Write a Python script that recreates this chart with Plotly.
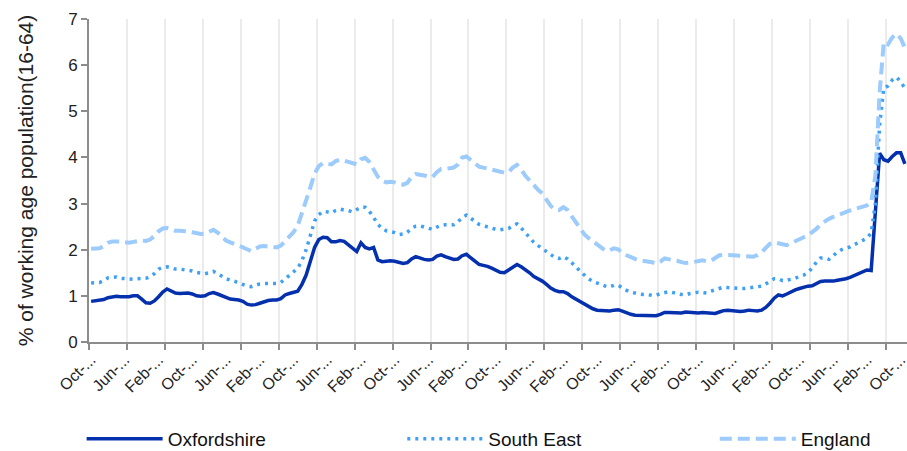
import plotly.graph_objects as go

# Monthly claimant rate, % of working age population (16-64)
oxfordshire = [
    0.88, 0.89, 0.90, 0.92, 0.96, 0.98, 0.99, 0.98, 0.98, 0.98,
    1.00, 1.00, 0.93, 0.85, 0.84, 0.89, 0.98, 1.08, 1.15, 1.10,
    1.06, 1.05, 1.05, 1.06, 1.04, 1.00, 0.99, 1.00, 1.05, 1.07,
    1.04, 1.00, 0.96, 0.93, 0.92, 0.91, 0.88, 0.82, 0.80, 0.81,
    0.84, 0.88, 0.90, 0.91, 0.91, 0.94, 1.02, 1.05, 1.07, 1.10,
    1.25, 1.45, 1.75, 2.05, 2.22, 2.27, 2.26, 2.17, 2.17, 2.20,
    2.18, 2.10, 2.03, 1.96, 2.15, 2.05, 2.02, 2.05, 1.78, 1.74,
    1.75, 1.76, 1.75, 1.72, 1.70, 1.72, 1.80, 1.85, 1.81, 1.79,
    1.78, 1.79, 1.86, 1.89, 1.85, 1.81, 1.79, 1.80, 1.87, 1.90,
    1.83, 1.74, 1.68, 1.66, 1.64, 1.60, 1.55, 1.51, 1.50, 1.56,
    1.63, 1.68, 1.63, 1.57, 1.50, 1.42, 1.38, 1.32, 1.25, 1.17,
    1.12, 1.09, 1.09, 1.05, 0.98, 0.93, 0.88, 0.81, 0.77, 0.72,
    0.69, 0.68, 0.67, 0.67, 0.69, 0.70, 0.67, 0.63, 0.60, 0.58,
    0.58, 0.58, 0.58, 0.58, 0.57, 0.60, 0.64, 0.64, 0.64, 0.64,
    0.63, 0.65, 0.64, 0.64, 0.63, 0.64, 0.63, 0.62, 0.62, 0.65,
    0.68, 0.69, 0.68, 0.66, 0.66, 0.67, 0.69, 0.68, 0.67, 0.69,
    0.75, 0.84, 0.95, 1.02, 1.00, 1.04, 1.09, 1.13, 1.16, 1.19,
    1.21, 1.22, 1.26, 1.31, 1.32, 1.32, 1.32, 1.34, 1.35, 1.37,
    1.40, 1.44, 1.46, 1.50, 1.56, 1.55, 2.80, 4.09, 3.95, 3.92,
    4.02, 4.10, 4.10, 3.86,
]

south_east = [
    1.28, 1.29, 1.29, 1.33, 1.39, 1.40, 1.41, 1.38, 1.37, 1.36,
    1.36, 1.37, 1.37, 1.38, 1.42, 1.48, 1.58, 1.62, 1.63, 1.60,
    1.58, 1.58, 1.57, 1.56, 1.54, 1.51, 1.49, 1.48, 1.50, 1.53,
    1.48, 1.42, 1.37, 1.34, 1.32, 1.28, 1.24, 1.21, 1.20, 1.23,
    1.26, 1.27, 1.27, 1.27, 1.27, 1.29, 1.36, 1.45, 1.52, 1.60,
    1.76, 2.00, 2.30, 2.62, 2.76, 2.83, 2.82, 2.80, 2.85, 2.88,
    2.86, 2.85, 2.82, 2.88, 2.92, 2.92, 2.83, 2.70, 2.55, 2.46,
    2.41, 2.39, 2.37, 2.33, 2.34, 2.38, 2.47, 2.51, 2.52, 2.49,
    2.46, 2.44, 2.49, 2.53, 2.54, 2.54, 2.54, 2.60, 2.70, 2.75,
    2.68, 2.61, 2.55, 2.52, 2.49, 2.46, 2.44, 2.43, 2.44, 2.46,
    2.52, 2.56, 2.47, 2.37, 2.26, 2.16, 2.09, 2.02, 1.95, 1.89,
    1.83, 1.81, 1.85, 1.80, 1.72, 1.63, 1.53, 1.44, 1.37, 1.31,
    1.27, 1.24, 1.21, 1.19, 1.23, 1.23, 1.17, 1.12, 1.08, 1.05,
    1.04, 1.03, 1.03, 1.01, 1.01, 1.05, 1.08, 1.09, 1.07, 1.06,
    1.03, 1.02, 1.05, 1.07, 1.08, 1.07, 1.06, 1.10, 1.13, 1.17,
    1.19, 1.18, 1.17, 1.16, 1.16, 1.16, 1.17, 1.19, 1.20, 1.21,
    1.26, 1.32, 1.37, 1.37, 1.33, 1.34, 1.36, 1.38, 1.42, 1.45,
    1.51, 1.60, 1.73, 1.82, 1.82, 1.79, 1.87, 1.95, 2.00, 2.03,
    2.06, 2.11, 2.15, 2.19, 2.25, 2.36, 3.00, 4.70, 5.50, 5.55,
    5.68, 5.74, 5.64, 5.50,
]

england = [
    2.02, 2.02, 2.03, 2.08, 2.15, 2.18, 2.19, 2.18, 2.16, 2.15,
    2.17, 2.19, 2.20, 2.19, 2.22, 2.30, 2.40, 2.46, 2.47, 2.44,
    2.41, 2.41, 2.41, 2.40, 2.38, 2.36, 2.34, 2.35, 2.40, 2.43,
    2.37, 2.28, 2.20, 2.16, 2.13, 2.09, 2.05, 2.01, 1.97, 2.02,
    2.07, 2.08, 2.07, 2.06, 2.05, 2.09, 2.19, 2.31, 2.38, 2.52,
    2.78, 3.05, 3.35, 3.65, 3.81, 3.88, 3.86, 3.85, 3.92, 3.95,
    3.93, 3.91, 3.87, 3.85, 3.96, 3.99, 3.90, 3.75, 3.58, 3.50,
    3.46, 3.47, 3.46, 3.42, 3.41, 3.45, 3.58, 3.64, 3.63, 3.61,
    3.58, 3.58, 3.68, 3.75, 3.75, 3.76, 3.78, 3.85, 4.00, 4.02,
    3.94, 3.86, 3.80, 3.78, 3.76, 3.74, 3.72, 3.70, 3.67, 3.68,
    3.78, 3.84, 3.74, 3.60, 3.49, 3.38, 3.30, 3.22, 3.10, 2.95,
    2.87, 2.86, 2.92, 2.86, 2.72, 2.59, 2.43, 2.33, 2.25, 2.18,
    2.12, 2.05, 1.98, 1.99, 2.03, 2.01, 1.93, 1.88, 1.83, 1.80,
    1.77, 1.76, 1.75, 1.73, 1.70, 1.74, 1.81, 1.80, 1.78, 1.76,
    1.73, 1.71, 1.72, 1.74, 1.76, 1.77, 1.75, 1.76, 1.82, 1.88,
    1.89, 1.89, 1.89, 1.88, 1.87, 1.86, 1.85, 1.85, 1.88, 1.94,
    2.04, 2.13, 2.16, 2.14, 2.11, 2.10, 2.14, 2.19, 2.23, 2.27,
    2.31, 2.37, 2.45, 2.55, 2.62, 2.67, 2.71, 2.75, 2.79, 2.82,
    2.85, 2.88, 2.91, 2.93, 2.96, 3.03, 3.60, 5.40, 6.50, 6.45,
    6.60, 6.68, 6.58, 6.38,
]

# Category labels shown every 8 months (truncated as in the original)
tick_labels = [
    "Oct-...", "Jun-...", "Feb-...", "Oct-...", "Jun-...", "Feb-...",
    "Oct-...", "Jun-...", "Feb-...", "Oct-...", "Jun-...", "Feb-...",
    "Oct-...", "Jun-...", "Feb-...", "Oct-...", "Jun-...", "Feb-...",
    "Oct-...", "Jun-...", "Feb-...", "Oct-...", "Jun-...", "Feb-...",
    "Oct-...",
]
label_every = 8
tick_every = 9

n = len(oxfordshire)
months = list(range(n))
label_pos = list(range(0, n, label_every))[: len(tick_labels)]

FONT = "Liberation Sans, Arial, sans-serif"

fig = go.Figure()
fig.add_trace(go.Scatter(
    x=months, y=oxfordshire, name="Oxfordshire", mode="lines",
    line=dict(color="#0530ad", width=3.5), legend="legend",
))
fig.add_trace(go.Scatter(
    x=months, y=south_east, name="South East", mode="lines",
    line=dict(color="#3fa0f5", width=3.5, dash="3px,5px"), legend="legend2",
))
fig.add_trace(go.Scatter(
    x=months, y=england, name="England", mode="lines",
    line=dict(color="#9ccbfc", width=4, dash="12px,6px"), legend="legend3",
))

leg_common = dict(
    orientation="h", xanchor="left", y=-0.2415, yanchor="top",
    font=dict(size=19, color="#111111"), itemwidth=76,
    bgcolor="rgba(0,0,0,0)", borderwidth=0,
)

fig.update_layout(
    width=907, height=451,
    margin=dict(l=89, r=0, t=19, b=109, autoexpand=False),
    paper_bgcolor="white", plot_bgcolor="white",
    font=dict(family=FONT, color="#222222"),
    showlegend=True,
    legend=dict(x=-0.009, **leg_common),
    legend2=dict(x=0.383, **leg_common),
    legend3=dict(x=0.765, **leg_common),
    xaxis=dict(
        range=[-0.5, n - 0.5], automargin=False,
        tickmode="array", tickvals=label_pos, ticktext=tick_labels,
        tickangle=-45, ticks="", showgrid=False, zeroline=False,
        ticklabeloverflow="allow",
        tickfont=dict(size=16, color="#222222"),
        showline=True, linecolor="#8c8c8c", linewidth=2,
        minor=dict(tickmode="linear", tick0=-0.5, dtick=tick_every,
                   ticks="outside", ticklen=6, tickcolor="#8c8c8c", tickwidth=2,
                   showgrid=True, gridcolor="#ebebeb", gridwidth=2),
    ),
    yaxis=dict(
        range=[0, 7], dtick=1, tick0=0, automargin=False,
        ticks="outside", ticklen=6, tickcolor="#8c8c8c", tickwidth=2,
        showgrid=False, zeroline=False,
        showline=True, linecolor="#8c8c8c", linewidth=2,
        tickfont=dict(size=17, color="#222222"),
        title=dict(text="% of working age population(16-64)",
                   font=dict(size=21, color="#222222"), standoff=29),
    ),
)

fig.write_html(
    "out.html",
    config={"displayModeBar": False},
    post_script="document.body.style.margin='0px';document.body.style.padding='0px';",
)
